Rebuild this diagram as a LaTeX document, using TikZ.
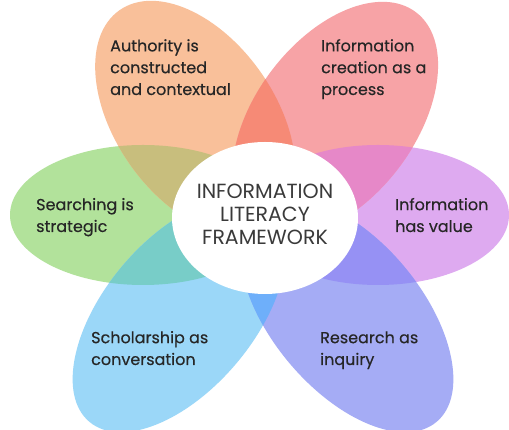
\documentclass[tikz,border=0pt]{standalone}
\usepackage{fontspec}
\setmainfont{Poppins}
\newfontfamily\petalfont{Poppins}[FakeBold=0.35]
\usetikzlibrary{shapes.geometric}
\begin{document}
\begin{tikzpicture}[x=1pt,y=1pt]
% palette
\definecolor{cOrange}{HTML}{F9C09A}
\definecolor{cRed}{HTML}{F7A3A6}
\definecolor{cPurple}{HTML}{DEAAF0}
\definecolor{cIndigo}{HTML}{A5ACF5}
\definecolor{cBlue}{HTML}{9BD7F8}
\definecolor{cGreen}{HTML}{B2E29B}
\definecolor{oOrRe}{HTML}{F68A76}
\definecolor{oRePu}{HTML}{E688C8}
\definecolor{oPuIn}{HTML}{9691F4}
\definecolor{oInBl}{HTML}{6EAFFA}
\definecolor{oBlGr}{HTML}{78CDC8}
\definecolor{oGrOr}{HTML}{C8BE7D}
\definecolor{petaltext}{HTML}{262626}
\definecolor{hubtext}{HTML}{3A3A3A}
\tikzset{
  petaltxt/.style={font=\petalfont\fontsize{16}{21.8}\selectfont, text=petaltext,
    align=left, anchor=base west, inner sep=0pt},
  hubtxt/.style={font=\fontsize{20.5}{23}\selectfont, text=hubtext,
    align=center, inner sep=0pt}
}
\useasboundingbox (0,0) rectangle (509,430);
\fill[white] (0,0) rectangle (509,430);
\coordinate (C) at (263,215);
% petal shapes: ellipse centre, direction, half length and half width
\def\petalG{\path[rotate around={180:(143,215)}] (143,215) ellipse (133 and 70)}
\def\petalP{\path[rotate around={0:(378,215)}] (378,215) ellipse (131 and 70)}
\def\petalO{\path[rotate around={125:(195.3,311.7)}] (195.3,311.7) ellipse (132 and 80)}
\def\petalR{\path[rotate around={53:(335.2,310.8)}] (335.2,310.8) ellipse (134 and 80)}
\def\petalB{\path[rotate around={230:(179.4,115.4)}] (179.4,115.4) ellipse (140 and 75)}
\def\petalI{\path[rotate around={310:(346.6,115.4)}] (346.6,115.4) ellipse (140 and 75)}
% base petals
\petalG[fill=cGreen];
\petalP[fill=cPurple];
\petalO[fill=cOrange];
\petalR[fill=cRed];
\petalB[fill=cBlue];
\petalI[fill=cIndigo];
% overlaps between neighbouring petals
\begin{scope}\petalO[clip]; \petalR[fill=oOrRe]; \end{scope}
\begin{scope}\petalR[clip]; \petalP[fill=oRePu]; \end{scope}
\begin{scope}\petalP[clip]; \petalI[fill=oPuIn]; \end{scope}
\begin{scope}\petalI[clip]; \petalB[fill=oInBl]; \end{scope}
\begin{scope}\petalB[clip]; \petalG[fill=oBlGr]; \end{scope}
\begin{scope}\petalG[clip]; \petalO[fill=oGrOr]; \end{scope}
% hub
\node[ellipse, fill=white, minimum width=186pt, minimum height=152pt, inner sep=0pt]
  (hub) at (265,212) {};
\node[hubtxt] (hubtext) at (265,216) {INFORMATION\\LITERACY\\FRAMEWORK};
% petal labels (anchored at the baseline of the last line)
\node[petaltxt] (authority) at (110,335) {Authority is\\constructed\\and contextual};
\node[petaltxt] (creation) at (321,335) {Information\\creation as a\\process};
\node[petaltxt] (searching) at (36,198) {Searching is\\strategic};
\node[petaltxt] (value) at (395,198) {Information\\has value};
\node[petaltxt] (scholarship) at (91,65) {Scholarship as\\conversation};
\node[petaltxt] (research) at (320,65) {Research as\\inquiry};
\end{tikzpicture}
\end{document}
